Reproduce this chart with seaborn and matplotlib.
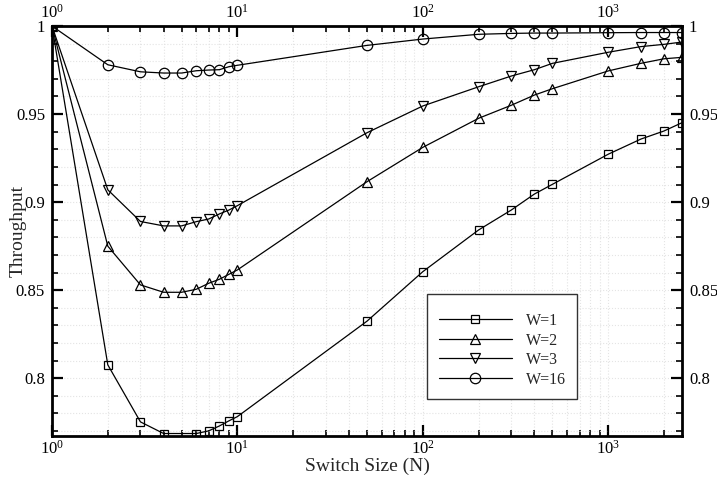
import numpy as np
import pandas as pd
import seaborn as sns
import matplotlib
matplotlib.use("Agg")
import matplotlib.pyplot as plt
from matplotlib.ticker import LogLocator, MultipleLocator, FormatStrFormatter, NullFormatter
from matplotlib.lines import Line2D
from matplotlib.patches import Rectangle

# ---- data ----
n_w1 = [1, 2, 3, 4, 6, 7, 8, 9, 10, 50, 100, 200, 300, 400, 500, 1000, 1500, 2000, 2500]
w1 = [1.0, 0.8076, 0.7752, 0.7686, 0.7686, 0.7701, 0.7729, 0.7758, 0.7782, 0.8324, 0.8605,
      0.8842, 0.8955, 0.9046, 0.9101, 0.9272, 0.9358, 0.9404, 0.9451]

n_all = [1, 2, 3, 4, 5, 6, 7, 8, 9, 10, 50, 100, 200, 300, 400, 500, 1000, 1500, 2000, 2500]
w2 = [1.0, 0.875, 0.853, 0.8488, 0.8488, 0.8505, 0.8539, 0.8562, 0.859, 0.8615, 0.9116, 0.9311,
      0.9476, 0.955, 0.9608, 0.9644, 0.9745, 0.9788, 0.9814, 0.9822]
w3 = [1.0, 0.907, 0.889, 0.8865, 0.8865, 0.8889, 0.8904, 0.8933, 0.8955, 0.898, 0.9394, 0.9546,
      0.9655, 0.9716, 0.9752, 0.9788, 0.9851, 0.9883, 0.9896, 0.9909]
w16 = [1.0, 0.978, 0.974, 0.9733, 0.9733, 0.9746, 0.975, 0.9752, 0.9769, 0.9777, 0.989, 0.9926,
       0.9953, 0.9958, 0.996, 0.996, 0.9962, 0.9963, 0.9963, 0.9963]

labels = ["W=1", "W=2", "W=3", "W=16"]
x_label = "Switch Size (N)"
y_label = "Throughput"

sns.set_theme(style="ticks")
plt.rcParams['font.family'] = ['Liberation Serif', 'DejaVu Serif']
plt.rcParams['mathtext.fontset'] = 'stix'

fig = plt.figure(figsize=(7.17, 4.8), dpi=100)
ax = fig.add_axes([0.0725, 0.0917, 0.8787, 0.8541])

series = [(n_w1, w1, 's', 5.5), (n_all, w2, '^', 7), (n_all, w3, 'v', 7), (n_all, w16, 'o', 7.5)]
handles = []
for (xs, ys, mk, ms), lab in zip(series, labels):
    sns.lineplot(x=xs, y=ys, ax=ax, color='black', linewidth=0.9, marker=mk, markersize=ms,
                 markerfacecolor='none', markeredgecolor='black', markeredgewidth=0.9,
                 estimator=None, sort=False, legend=False)
    handles.append(Line2D([], [], color='black', linewidth=0.9, marker=mk, markersize=ms,
                          markerfacecolor='none', markeredgecolor='black', markeredgewidth=0.9))

ax.set_xscale('log')
ax.set_xlim(1, 2500)
ax.set_ylim(0.7672, 1.0)

ax.xaxis.set_major_locator(LogLocator(base=10, numticks=10))
ax.xaxis.set_minor_locator(LogLocator(base=10, subs=np.arange(2, 10), numticks=20))
ax.xaxis.set_minor_formatter(NullFormatter())
ax.yaxis.set_major_locator(MultipleLocator(0.05))
ax.yaxis.set_minor_locator(MultipleLocator(0.01))
ax.yaxis.set_major_formatter(FormatStrFormatter('%g'))

ax.tick_params(which='both', direction='in', top=True, right=True, labeltop=True,
               labelright=True, labelsize=12, colors='black', width=1.2)
ax.tick_params(which='major', length=8, width=1.6, pad=5)
ax.tick_params(axis='x', which='major', pad=3)
ax.tick_params(which='minor', length=4.5)

for sp in ax.spines.values():
    sp.set_linewidth(2.0)
    sp.set_color('black')

ax.grid(which='both', color='#e4e4e4', linestyle=':', linewidth=0.8)
ax.set_facecolor('white')

ax.set_xlabel(x_label, fontsize=14, labelpad=0)
ax.set_ylabel(y_label, fontsize=14, labelpad=-8)

# legend frame
ax.add_patch(Rectangle((0.5948, 0.0895), 0.8338 - 0.5948, 0.3456 - 0.0895, transform=ax.transAxes,
                       facecolor='white', edgecolor='#333333', linewidth=1.0, zorder=4))
leg = ax.legend(handles, labels, loc='center left', bbox_to_anchor=(0.6143, 0.209),
                fontsize=11.5, handlelength=4.56, frameon=False, borderpad=0,
                labelspacing=0.22, handletextpad=0.86, borderaxespad=0)
leg.set_zorder(5)

fig.savefig("out.png", dpi=100)
